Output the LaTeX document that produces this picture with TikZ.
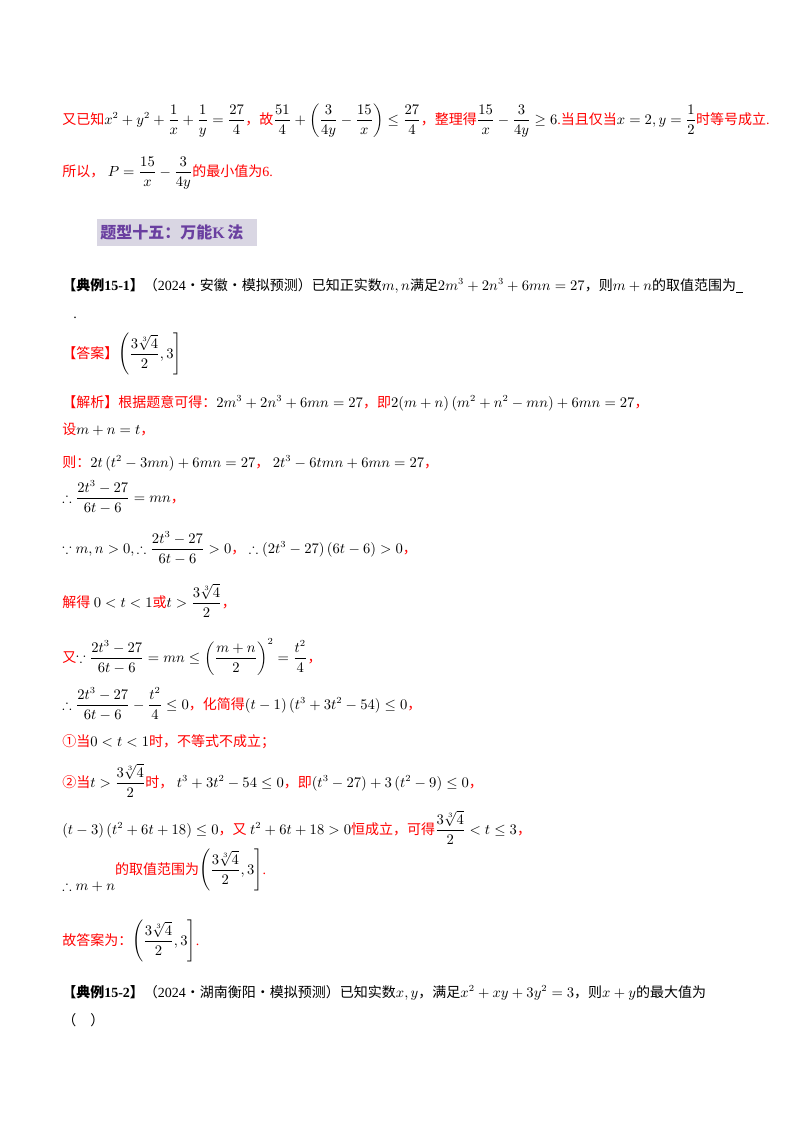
\documentclass[tikz,border=0pt]{standalone}
\usepackage{amsmath,amssymb}
\usepackage{fontspec}
\setmainfont{Liberation Serif}
\newfontfamily\cjk{Noto Sans CJK SC}
\newcommand{\zh}[1]{{\cjk #1}}
\newcommand{\rd}[1]{{\color{red}#1}}
\definecolor{hdpurple}{HTML}{6A3FA0}
\definecolor{hdbg}{HTML}{D9D6E3}
\begin{document}
\begin{tikzpicture}[x=0.75pt,y=-0.75pt,
  ln/.style={anchor=base west,inner sep=0pt,font=\fontsize{10.5}{12}\selectfont}]
\useasboundingbox (0,0) rectangle (800,1132);
\node[ln] (l1) at (62,124) {\rd{\zh{又已知}}$x^2+y^2+\dfrac1x+\dfrac1y=\dfrac{27}{4}$\rd{\zh{，故}}$\dfrac{51}{4}+\left(\dfrac{3}{4y}-\dfrac{15}{x}\right)\le\dfrac{27}{4}$\rd{\zh{，整理得}}$\dfrac{15}{x}-\dfrac{3}{4y}\ge6$\rd{.\zh{当且仅当}}$x=2,y=\dfrac12$\rd{\zh{时等号成立}.}};
\node[ln] (l2) at (62,176) {\rd{\zh{所以，}}\ $P=\dfrac{15}{x}-\dfrac{3}{4y}$\rd{\zh{的最小值为}6.}};
\fill[hdbg] (97,219) rectangle (257,246);
\node[ln,font=\fontsize{12}{14}\selectfont\bfseries,text=hdpurple] (hd) at (100,238) {\zh{\bfseries 题型十五：万能}K\,\zh{\bfseries 法}};
\node[ln] (e1) at (62,290) {\textbf{\zh{【典例}15-1\zh{】}}\zh{（}2024\zh{·安徽·模拟预测）已知正实数}$m,n$\zh{满足}$2m^3+2n^3+6mn=27$\zh{，则}$m+n$\zh{的取值范围为}\underline{\ \ }};
\node[ln] (dot) at (73,318) {.};
\node[ln] (ans) at (62,358) {\rd{\zh{【答案】}}$\left(\dfrac{3\sqrt[3]{4}}{2},3\right]$};
\node[ln] (s1) at (62,407) {\rd{\zh{【解析】根据题意可得：}}$2m^3+2n^3+6mn=27$\rd{\zh{，即}}$2(m+n)\left(m^2+n^2-mn\right)+6mn=27$\rd{\zh{，}}};
\node[ln] (s2) at (62,434) {\rd{\zh{设}}$m+n=t$\rd{\zh{，}}};
\node[ln] (s3) at (62,467) {\rd{\zh{则：}}$2t\left(t^2-3mn\right)+6mn=27$\rd{\zh{，}}\ $2t^3-6tmn+6mn=27$\rd{\zh{，}}};
\node[ln] (s4) at (62,502) {$\therefore\dfrac{2t^3-27}{6t-6}=mn$\rd{\zh{，}}};
\node[ln] (s5) at (62,553) {$\because m,n>0,\therefore\dfrac{2t^3-27}{6t-6}>0$\rd{\zh{，}}\ $\therefore\left(2t^3-27\right)(6t-6)>0$\rd{\zh{，}}};
\node[ln] (s6) at (62,607) {\rd{\zh{解得}}\ $0<t<1$\rd{\zh{或}}$t>\dfrac{3\sqrt[3]{4}}{2}$\rd{\zh{，}}};
\node[ln] (s7) at (62,662) {\rd{\zh{又}}$\because\dfrac{2t^3-27}{6t-6}=mn\le\left(\dfrac{m+n}{2}\right)^2=\dfrac{t^2}{4}$\rd{\zh{，}}};
\node[ln] (s8) at (62,709) {$\therefore\dfrac{2t^3-27}{6t-6}-\dfrac{t^2}{4}\le0$\rd{\zh{，化简得}}$(t-1)\left(t^3+3t^2-54\right)\le0$\rd{\zh{，}}};
\node[ln] (s9) at (62,746) {\rd{\zh{①当}}$0<t<1$\rd{\zh{时，不等式不成立；}}};
\node[ln] (s10) at (62,787) {\rd{\zh{②当}}$t>\dfrac{3\sqrt[3]{4}}{2}$\rd{\zh{时，}}\ $t^3+3t^2-54\le0$\rd{\zh{，即}}$\left(t^3-27\right)+3\left(t^2-9\right)\le0$\rd{\zh{，}}};
\node[ln] (s11) at (62,834) {$(t-3)\left(t^2+6t+18\right)\le0$\rd{\zh{，又}}\ $t^2+6t+18>0$\rd{\zh{恒成立，可得}}$\dfrac{3\sqrt[3]{4}}{2}<t\le3$\rd{\zh{，}}};
\node[ln] (s12) at (62,890) {$\therefore m+n$\raisebox{12pt}{\rd{\zh{的取值范围为}}$\left(\dfrac{3\sqrt[3]{4}}{2},3\right]$\rd{.}}};
\node[ln] (s13) at (62,945) {\rd{\zh{故答案为：}}$\left(\dfrac{3\sqrt[3]{4}}{2},3\right]$\rd{.}};
\node[ln] (e2) at (62,997) {\textbf{\zh{【典例}15-2\zh{】}}\zh{（}2024\zh{·湖南衡阳·模拟预测）已知实数}$x,y$\zh{，满足}$x^2+xy+3y^2=3$\zh{，则}$x+y$\zh{的最大值为}};
\node[ln] (e2b) at (62,1025) {\zh{（\quad ）}};
\end{tikzpicture}
\end{document}
